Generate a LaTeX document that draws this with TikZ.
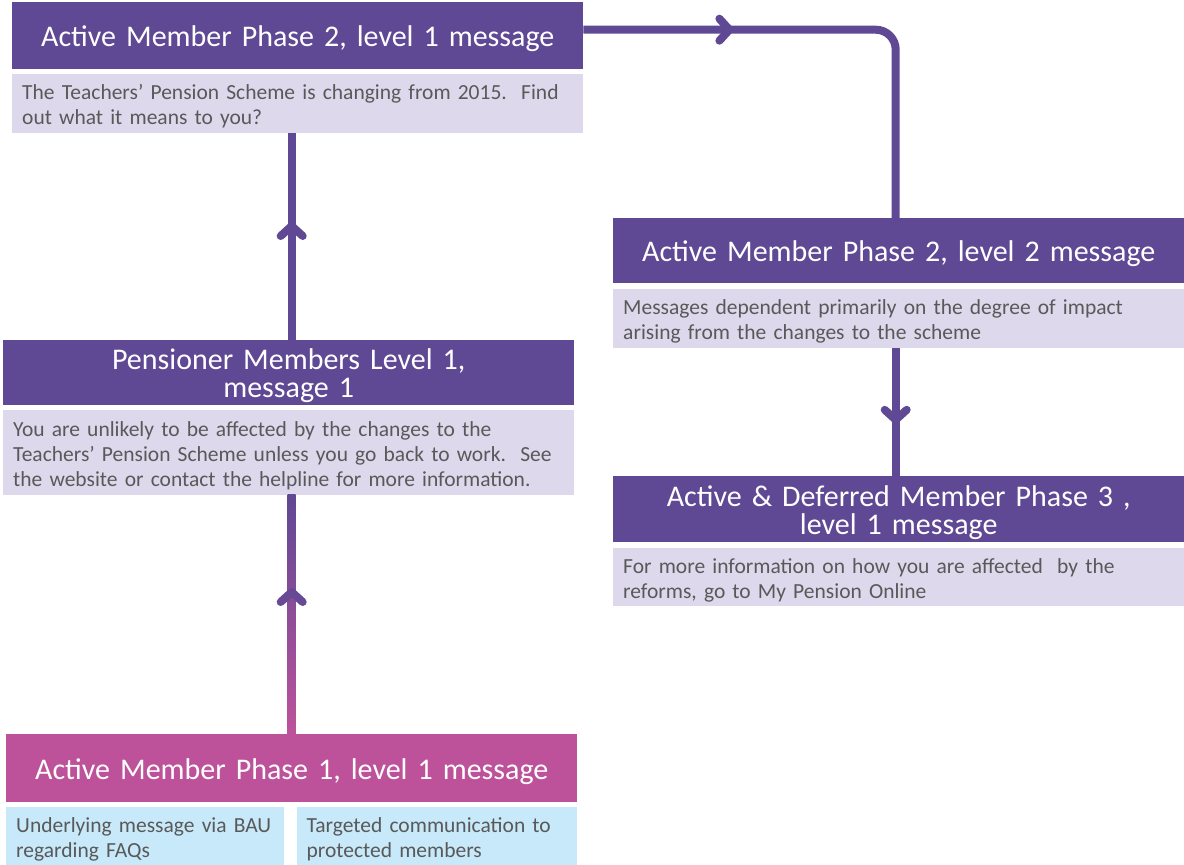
\documentclass[tikz,border=0pt]{standalone}
\usepackage{fontspec}
\setmainfont{Carlito}
\usepackage{xcolor}
\usetikzlibrary{positioning,arrows.meta,decorations.markings}

\definecolor{tpPurple}{HTML}{5F4894}
\definecolor{tpLilac}{HTML}{DDD8EC}
\definecolor{tpPink}{HTML}{BD529B}
\definecolor{tpBlue}{HTML}{C8E9F9}
\definecolor{tpText}{HTML}{595959}

\tikzset{
  head/.style={rectangle, fill=tpPurple, text=white, minimum width=571pt, minimum height=67pt,
    text width=551pt, inner xsep=10pt, inner ysep=0pt, align=center, font=\fontsize{30}{28}\selectfont,
    execute at begin node={\rule{0pt}{0.92em}}},
  body/.style={rectangle, fill=tpLilac, text=tpText, minimum height=59pt,
    text width=551pt, inner xsep=10pt, inner ysep=0pt, align=left, font=\fontsize{21.5}{25}\selectfont,
    execute at begin node={\rule{0pt}{1em}}},
  link/.style={draw=tpPurple, color=tpPurple, line width=8pt},
  midarrow/.style={postaction={decorate}, decoration={markings,
    mark=at position #1 with {\arrow{Straight Barb[length=10pt, width=22pt, round]}}}}
}

\begin{document}
\begin{tikzpicture}[x=1pt, y=-1pt]
    \useasboundingbox (0,0) rectangle (1184,865);

    \node (p2head) [head, anchor=north west] at (12,2) {Active Member Phase 2, level 1 message};
    \node (p2body) [body, below=4pt of p2head] {The Teachers’ Pension Scheme is changing from 2015.\ \ Find\\out what it means to you?};

    \node (penhead) [head, anchor=north west, minimum height=65pt] at (3,340) {Pensioner Members Level 1,\\message 1};
    \node (penbody) [body, below=4pt of penhead, minimum height=85pt] {You are unlikely to be affected by the changes to the\\Teachers’ Pension Scheme unless you go back to work.\ \ See\\the website or contact the helpline for more information.};

    \node (p2l2head) [head, anchor=north west, minimum height=65pt] at (613,218) {Active Member Phase 2, level 2 message};
    \node (p2l2body) [body, below=5pt of p2l2head] {Messages dependent primarily on the degree of impact\\arising from the changes to the scheme};

    \node (p3head) [head, anchor=north west, minimum height=66pt] at (613,476) {Active \& Deferred Member Phase 3 ,\\level 1 message};
    \node (p3body) [body, below=5pt of p3head, minimum height=58pt] {For more information on how you are affected\ \ by the\\reforms, go to My Pension Online};

    \node (p1head) [head, fill=tpPink, anchor=north west, minimum height=68pt] at (6,734) {Active Member Phase 1, level 1 message};
    \node (bau) [body, fill=tpBlue, text width=258pt, below right=4pt and 0pt of p1head.south west] {Underlying message via BAU\\regarding FAQs};
    \node (protect) [body, fill=tpBlue, text width=260pt, right=12pt of bau] {Targeted communication to\\protected members};

    \coordinate (pentop) at ([xshift=3pt]penhead.north);
    \coordinate (l2top) at ([xshift=-3pt]p2l2head.north);
    \coordinate (l2bot) at ([xshift=-3pt]p2l2body.south);

    \draw[link, midarrow=118pt] (pentop) -- (pentop |- p2body.south);
    \draw[link, rounded corners=20pt, midarrow=150pt] ([yshift=6pt]p2head.east) -| (l2top);
    \draw[link, midarrow=76pt] (l2bot) -- (l2bot |- p3head.north);

    % phase 1 link fades from pink to purple
    \coordinate (gtop) at (p1head.north |- penbody.south);
    \shade[top color=tpPurple, middle color=tpPurple!60!tpPink, bottom color=tpPink]
        ([xshift=-4pt]p1head.north) rectangle ([xshift=4pt]gtop);
    \path[midarrow=146pt, color=tpPurple!90!tpPink, line width=8pt] (p1head.north) -- (gtop);
\end{tikzpicture}
\end{document}
